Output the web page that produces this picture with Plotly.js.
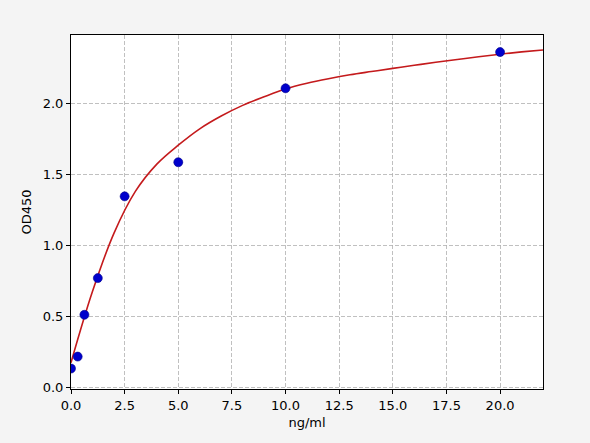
<!DOCTYPE html>
<html>
<head>
<meta charset="utf-8">
<script src="https://cdn.plot.ly/plotly-3.0.1.min.js"></script>
<style>
  html, body { margin: 0; padding: 0; background: #f4f4f4; }
  #chart { width: 590px; height: 443px; }
</style>
</head>
<body>
<div id="chart"></div>
<script>
// standards (ng/ml) and measured OD450
var stdConc = [0, 0.3125, 0.625, 1.25, 2.5, 5, 10, 20];
var stdOD = [0.134, 0.218, 0.512, 0.77, 1.345, 1.585, 2.105, 2.36];

// fitted curve, every 1 ng/ml
var fitConc = [0, 1, 2, 3, 4, 5, 6, 7, 8, 9, 10, 11, 12, 13, 14, 15, 16, 17, 18, 19, 20, 21, 22];
var fitOD = [0.175, 0.675, 1.085, 1.38, 1.572, 1.705, 1.82, 1.91, 1.985, 2.045, 2.10, 2.14, 2.172,
             2.2, 2.223, 2.245, 2.267, 2.288, 2.308, 2.327, 2.345, 2.361, 2.375];

var xTicks = [0, 2.5, 5, 7.5, 10, 12.5, 15, 17.5, 20];
var yTicks = [0, 0.5, 1, 1.5, 2];

var traces = [
  {
    x: fitConc, y: fitOD,
    type: 'scatter', mode: 'lines',
    line: { color: '#c41a1c', width: 1.6, shape: 'spline', smoothing: 1 },
    hoverinfo: 'skip'
  },
  {
    x: stdConc, y: stdOD,
    type: 'scatter', mode: 'markers',
    marker: { color: '#0000cc', size: 9, line: { color: '#00008b', width: 0.6 } }
  }
];

var axisBase = {
  showline: true, mirror: true, linecolor: '#000', linewidth: 1,
  ticks: 'outside', ticklen: 4, tickcolor: '#000',
  showgrid: true, gridcolor: '#b0b0b0', griddash: '4px,2px', gridwidth: 0.8,
  zeroline: false, tickformat: '.1f',
  tickfont: { family: 'DejaVu Sans', size: 13, color: '#000' }
};

var layout = {
  width: 590, height: 443,
  paper_bgcolor: '#f4f4f4', plot_bgcolor: '#ffffff',
  margin: { l: 71, r: 47, t: 35, b: 54 },
  showlegend: false,
  xaxis: Object.assign({}, axisBase, {
    range: [0, 22], tickvals: xTicks,
    title: { text: 'ng/ml', font: { family: 'DejaVu Sans', size: 13, color: '#000' }, standoff: 6 }
  }),
  yaxis: Object.assign({}, axisBase, {
    range: [-0.01, 2.48], tickvals: yTicks,
    title: { text: 'OD450', font: { family: 'DejaVu Sans', size: 13, color: '#000' }, standoff: 8 }
  })
};

Plotly.newPlot('chart', traces, layout, { staticPlot: true });
</script>
</body>
</html>
